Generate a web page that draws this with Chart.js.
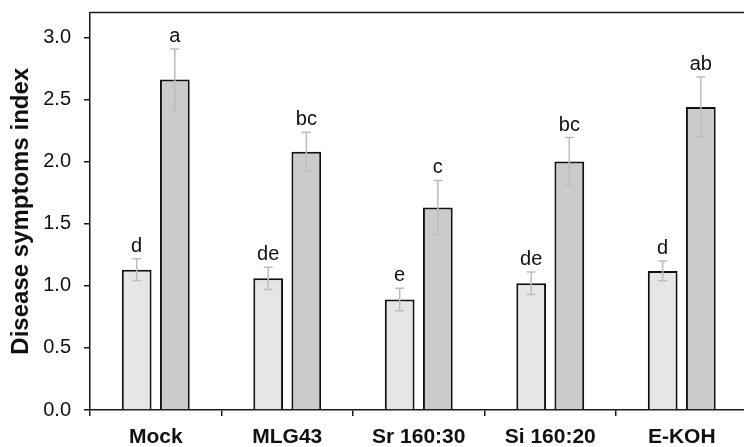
<!DOCTYPE html>
<html>
<head>
<meta charset="utf-8">
<script src="https://cdn.jsdelivr.net/npm/chart.js@4.4.1/dist/chart.umd.min.js"></script>
<style>
  html, body { margin: 0; padding: 0; background: #fff; overflow: hidden; }
  #wrap { width: 744px; height: 447px; overflow: hidden; }
</style>
</head>
<body>
<div id="wrap"><canvas id="chart" width="760" height="447"></canvas></div>
<script>
const categories = ['Mock', 'MLG43', 'Sr 160:30', 'Si 160:20', 'E-KOH'];
const lightValues = [1.13, 1.06, 0.89, 1.02, 1.12];
const lightErrors = [0.087, 0.09, 0.09, 0.09, 0.08];
const lightLetters = ['d', 'de', 'e', 'de', 'd'];
const darkValues = [2.66, 2.08, 1.63, 2.00, 2.44];
const darkErrors = [0.247, 0.156, 0.218, 0.193, 0.24];
const darkLetters = ['a', 'bc', 'c', 'bc', 'ab'];
const yTicks = [0, 0.5, 1.0, 1.5, 2.0, 2.5, 3.0];

// error bars + significance letters
const errorBars = {
    id: 'errorBars',
    afterDatasetsDraw(chart) {
        const ctx = chart.ctx;
        const y = chart.scales.y;
        chart.data.datasets.forEach((ds, di) => {
            const meta = chart.getDatasetMeta(di);
            meta.data.forEach((bar, i) => {
                const v = ds.data[i];
                const e = ds.errors[i];
                const top = y.getPixelForValue(v + e);
                const bot = y.getPixelForValue(v - e);
                ctx.save();
                ctx.strokeStyle = '#bdbdbd';
                ctx.lineWidth = 1.5;
                ctx.beginPath();
                ctx.moveTo(bar.x, top);
                ctx.lineTo(bar.x, bot);
                ctx.moveTo(bar.x - 4.5, top);
                ctx.lineTo(bar.x + 4.5, top);
                ctx.moveTo(bar.x - 4.5, bot);
                ctx.lineTo(bar.x + 4.5, bot);
                ctx.stroke();
                ctx.fillStyle = '#111';
                ctx.font = '20px "Liberation Sans", Arial, sans-serif';
                ctx.textAlign = 'center';
                ctx.textBaseline = 'alphabetic';
                ctx.fillText(ds.letters[i], bar.x, top - 7);
                ctx.restore();
            });
        });
    }
};

// frame around plot area (top and right)
const frame = {
    id: 'frame',
    afterDraw(chart) {
        const a = chart.chartArea;
        const ctx = chart.ctx;
        ctx.save();
        ctx.strokeStyle = '#1a1a1a';
        ctx.lineWidth = 1.5;
        ctx.beginPath();
        ctx.moveTo(a.left, a.top);
        ctx.lineTo(a.right, a.top);
        ctx.lineTo(a.right, a.bottom);
        ctx.stroke();
        ctx.restore();
    }
};

new Chart(document.getElementById('chart'), {
    type: 'bar',
    data: {
        labels: categories,
        datasets: [{
            label: 'light',
            data: lightValues,
            errors: lightErrors,
            letters: lightLetters,
            backgroundColor: '#e6e6e6',
            borderColor: '#111',
            borderWidth: 2,
            categoryPercentage: 0.58,
            barPercentage: 0.78
        }, {
            label: 'dark',
            data: darkValues,
            errors: darkErrors,
            letters: darkLetters,
            backgroundColor: '#cbcbcb',
            borderColor: '#111',
            borderWidth: 2,
            categoryPercentage: 0.58,
            barPercentage: 0.78
        }]
    },
    options: {
        responsive: false,
        animation: false,
        devicePixelRatio: 1,
        layout: { padding: { top: 12.5, right: 12.5, left: 0, bottom: 0 } },
        plugins: {
            legend: { display: false },
            tooltip: { enabled: false }
        },
        scales: {
            x: {
                afterFit(scale) {
                    scale.height = 37;
                    scale.paddingLeft = 0;
                    scale.paddingRight = 0;
                },
                grid: {
                    offset: true,
                    drawOnChartArea: false,
                    tickLength: 6,
                    color: '#1a1a1a',
                    lineWidth: 1.5
                },
                border: { color: '#1a1a1a', width: 1.5 },
                ticks: {
                    color: '#111',
                    padding: 9,
                    font: { family: '"Liberation Sans", Arial, sans-serif', size: 21, weight: 'bold' }
                }
            },
            y: {
                min: 0,
                max: 3.2,
                afterFit(scale) {
                    scale.width = 90;
                    scale.paddingTop = 0;
                    scale.paddingBottom = 0;
                },
                afterBuildTicks(scale) {
                    scale.ticks = yTicks.map(v => ({ value: v }));
                },
                grid: {
                    drawOnChartArea: false,
                    tickLength: 6,
                    color: '#1a1a1a',
                    lineWidth: 1.5
                },
                border: { color: '#1a1a1a', width: 1.5 },
                ticks: {
                    color: '#111',
                    padding: 13,
                    callback: v => v.toFixed(1),
                    font: { family: '"Liberation Sans", Arial, sans-serif', size: 20 }
                },
                title: {
                    display: true,
                    text: 'Disease symptoms index',
                    color: '#111',
                    padding: { top: 7, bottom: 0 },
                    font: { family: '"Liberation Sans", Arial, sans-serif', size: 24, weight: 'bold' }
                }
            }
        }
    },
    plugins: [errorBars, frame]
});
</script>
</body>
</html>
